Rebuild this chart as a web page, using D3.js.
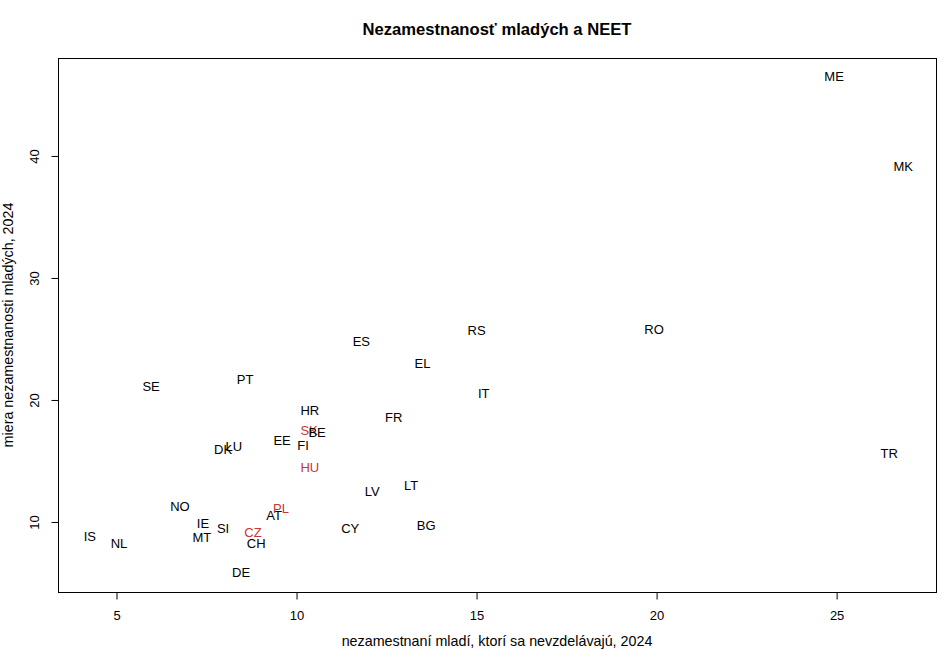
<!DOCTYPE html>
<html><head><meta charset="utf-8">
<script src="https://cdn.jsdelivr.net/npm/d3@7/dist/d3.min.js"></script>
<style>body{margin:0;background:#fff}text{font-family:"Liberation Sans",Arial,sans-serif}</style>
</head><body><svg id="c" width="950" height="650"></svg>
<script>
const countries = ["ME","MK","RO","TR","RS","ES","EL","IT","FR","SE","PT","HR","SK","BE","EE","FI","DK","LU","HU","LV","LT","BG","CY","NO","IE","MT","SI","AT","PL","CZ","CH","DE","IS","NL"];
const neet = [24.93,26.85,19.93,26.46,15.0,11.8,13.5,15.2,12.7,5.96,8.57,10.37,10.35,10.57,9.6,10.18,7.96,8.26,10.37,12.1,13.18,13.6,11.49,6.76,7.4,7.37,7.96,9.375,9.57,8.79,8.88,8.46,4.26,5.07];
const unemp = [46.5,39.1,25.8,15.6,25.7,24.8,22.95,20.5,18.6,21.07,21.7,19.1,17.46,17.3,16.64,16.23,15.9,16.15,14.5,12.46,13.03,9.75,9.5,11.3,9.84,8.69,9.43,10.5,11.07,9.1,8.2,5.82,8.77,8.2];
const highlighted = ["SK","HU","PL","CZ"];
const xTicks = [5,10,15,20,25];
const yTicks = [10,20,30,40];

const L=58,R=936,T=58,B=592;
const x = d3.scaleLinear().domain([3.375,27.76]).range([L,R]);
const y = d3.scaleLinear().domain([4.26,48.03]).range([B,T]);
const svg = d3.select("#c");
svg.append("rect").attr("x",L+0.5).attr("y",T+0.5).attr("width",R-L).attr("height",B-T).attr("fill","none").attr("stroke","#000").attr("stroke-width",1);

const xa = svg.append("g").attr("transform",`translate(0,${B+0.5})`)
  .call(d3.axisBottom(x).tickValues(xTicks).tickSize(7).tickPadding(11).tickSizeOuter(0));
xa.select(".domain").remove();
xa.append("line").attr("x1",x(xTicks[0])).attr("x2",x(xTicks[xTicks.length-1])).attr("stroke","#000");
xa.selectAll("text").attr("font-size",13).attr("fill","#000").style("font-family","Liberation Sans, Arial, sans-serif");

const ya = svg.append("g").attr("transform",`translate(${L+0.5},0)`)
  .call(d3.axisLeft(y).tickValues(yTicks).tickSize(7).tickSizeOuter(0));
ya.select(".domain").remove();
ya.append("line").attr("y1",y(yTicks[0])).attr("y2",y(yTicks[yTicks.length-1])).attr("stroke","#000");
ya.selectAll(".tick text").attr("font-size",13).attr("fill","#000").attr("text-anchor","middle")
  .attr("dy",0).attr("dominant-baseline","middle")
  .each(function(d){ d3.select(this).attr("x",0).attr("y",0).attr("transform",`translate(-23,0) rotate(-90)`); })
  .style("font-family","Liberation Sans, Arial, sans-serif");

svg.append("g").selectAll("text").data(countries).join("text")
  .attr("x",(d,i)=>x(neet[i])).attr("y",(d,i)=>y(unemp[i]))
  .attr("text-anchor","middle").attr("dominant-baseline","central")
  .attr("font-size",13).attr("fill",d=>highlighted.includes(d)?"#CD3333":"#000").text(d=>d);

svg.append("text").attr("x",(L+R)/2).attr("y",35).attr("text-anchor","middle")
  .attr("font-size",16.6).attr("font-weight","bold").text("Nezamestnanosť mladých a NEET");
svg.append("text").attr("x",(L+R)/2).attr("y",646).attr("text-anchor","middle")
  .attr("font-size",14.3).text("nezamestnaní mladí, ktorí sa nevzdelávajú, 2024");
svg.append("text").attr("transform",`translate(13,${(T+B)/2}) rotate(-90)`).attr("text-anchor","middle")
  .attr("font-size",14.3).text("miera nezamestnanosti mladých, 2024");
</script></body></html>
